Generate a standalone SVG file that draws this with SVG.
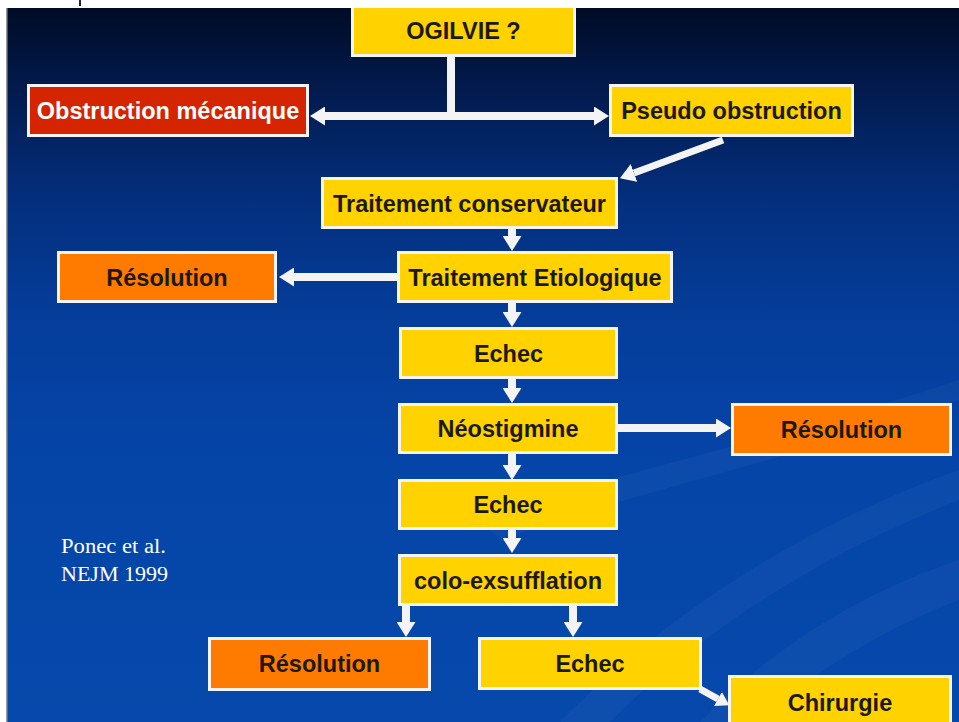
<svg xmlns="http://www.w3.org/2000/svg" width="959" height="722" viewBox="0 0 959 722">
  <defs>
    <linearGradient id="bg" x1="0" y1="0" x2="0" y2="1">
      <stop offset="0" stop-color="#000a22"/>
      <stop offset="0.12" stop-color="#021a4c"/>
      <stop offset="0.28" stop-color="#042f7e"/>
      <stop offset="0.45" stop-color="#053e9c"/>
      <stop offset="0.65" stop-color="#0545a8"/>
      <stop offset="1" stop-color="#0648ab"/>
    </linearGradient>
    <marker id="ah" viewBox="0 0 15 19" refX="0" refY="9.5" markerWidth="15" markerHeight="19" markerUnits="userSpaceOnUse" orient="auto-start-reverse">
      <path d="M0,0 L15,9.5 L0,19 z" fill="#f4f4f4"/>
    </marker>
    <marker id="ahs" viewBox="0 0 13 16" refX="0" refY="8" markerWidth="13" markerHeight="16" markerUnits="userSpaceOnUse" orient="auto">
      <path d="M0,0 L13,8 L0,16 z" fill="#f4f4f4"/>
    </marker>
  </defs>
  <style>
    .box { stroke: #f4f4f4; stroke-width: 3; }
    .y { fill: #ffd200; }
    .o { fill: #ff7b00; }
    .r { fill: #d42400; }
    .t { font-family: "Liberation Sans", Arial, sans-serif; font-weight: bold; font-size: 23.5px; text-anchor: middle; fill: #1c1a10; }
    .tw { fill: #ffffff; }
    .c { stroke: #f4f4f4; stroke-width: 8; fill: none; }
    .ref { font-family: "Liberation Serif", "Times New Roman", serif; font-size: 20px; fill: #ffffff; }
  </style>

  <!-- background -->
  <rect x="0" y="0" width="959" height="722" fill="url(#bg)"/>
  <g fill="#ffffff" opacity="0.03">
    <path d="M560,722 C680,600 820,520 959,470 L959,500 C830,550 700,630 610,722 z"/>
    <path d="M700,722 C780,640 870,590 959,560 L959,600 C880,630 800,680 760,722 z"/>
    <path d="M480,520 C620,470 780,440 959,380 L959,400 C790,460 640,490 500,540 z"/>
  </g>

  <!-- connectors -->
  <g id="connectors">
    <line class="c" x1="451" y1="55" x2="451" y2="116"/>
    <line class="c" x1="325" y1="116" x2="594" y2="116" marker-start="url(#ah)" marker-end="url(#ah)"/>
    <line class="c" style="stroke-width:7" x1="723" y1="140" x2="634" y2="173" marker-end="url(#ah)"/>
    <line class="c" x1="512" y1="229" x2="512" y2="236" marker-end="url(#ah)"/>
    <line class="c" x1="397" y1="277" x2="294" y2="277" marker-end="url(#ah)"/>
    <line class="c" x1="512" y1="303" x2="512" y2="312" marker-end="url(#ah)"/>
    <line class="c" x1="512" y1="379" x2="512" y2="388" marker-end="url(#ah)"/>
    <line class="c" x1="618" y1="428" x2="716" y2="428" marker-end="url(#ah)"/>
    <line class="c" x1="512" y1="454" x2="512" y2="465" marker-end="url(#ah)"/>
    <line class="c" x1="512" y1="529" x2="512" y2="538" marker-end="url(#ah)"/>
    <line class="c" x1="406" y1="605" x2="406" y2="622" marker-end="url(#ah)"/>
    <line class="c" x1="573" y1="605" x2="573" y2="622" marker-end="url(#ah)"/>
    <line class="c" style="stroke-width:7" x1="700" y1="689" x2="718" y2="699" marker-end="url(#ahs)"/>
  </g>

  <!-- nodes -->
  <g id="ogilvie">
    <rect class="box y" x="352.5" y="2" width="222" height="53.5"/>
    <text class="t" x="463.5" y="39">OGILVIE ?</text>
  </g>
  <g id="obstruction-mecanique">
    <rect class="box r" x="28.5" y="85.5" width="279" height="50"/>
    <text class="t tw" x="168" y="119">Obstruction mécanique</text>
  </g>
  <g id="pseudo-obstruction">
    <rect class="box y" x="610.5" y="85.5" width="242" height="50"/>
    <text class="t" x="731.5" y="119">Pseudo obstruction</text>
  </g>
  <g id="traitement-conservateur">
    <rect class="box y" x="322.5" y="178.5" width="294" height="49"/>
    <text class="t" x="469.5" y="211.5">Traitement conservateur</text>
  </g>
  <g id="traitement-etiologique">
    <rect class="box y" x="398.5" y="252.5" width="273" height="49"/>
    <text class="t" x="535" y="285.5">Traitement Etiologique</text>
  </g>
  <g id="resolution-1">
    <rect class="box o" x="58.5" y="252.5" width="217" height="49"/>
    <text class="t" x="167" y="285.5">Résolution</text>
  </g>
  <g id="echec-1">
    <rect class="box y" x="400.5" y="328.5" width="216" height="49"/>
    <text class="t" x="508.5" y="361.5">Echec</text>
  </g>
  <g id="neostigmine">
    <rect class="box y" x="399.5" y="404.5" width="217" height="48"/>
    <text class="t" x="508" y="437">Néostigmine</text>
  </g>
  <g id="resolution-2">
    <rect class="box o" x="732.5" y="404.5" width="218" height="50"/>
    <text class="t" x="841.5" y="438">Résolution</text>
  </g>
  <g id="echec-2">
    <rect class="box y" x="399.5" y="480.5" width="217" height="48"/>
    <text class="t" x="508" y="513">Echec</text>
  </g>
  <g id="colo-exsufflation">
    <rect class="box y" x="399.5" y="555.5" width="217" height="49"/>
    <text class="t" x="508" y="588.5">colo-exsufflation</text>
  </g>
  <g id="resolution-3">
    <rect class="box o" x="209.5" y="638.5" width="220" height="51"/>
    <text class="t" x="319.5" y="672">Résolution</text>
  </g>
  <g id="echec-3">
    <rect class="box y" x="479.5" y="638.5" width="221" height="50"/>
    <text class="t" x="590" y="672">Echec</text>
  </g>
  <g id="chirurgie">
    <rect class="box y" x="729.5" y="676.5" width="221" height="60"/>
    <text class="t" x="840" y="711">Chirurgie</text>
  </g>

  <!-- reference -->
  <text class="ref" x="61" y="553" textLength="105" lengthAdjust="spacingAndGlyphs">Ponec et al.</text>
  <text class="ref" x="61" y="581" textLength="107" lengthAdjust="spacingAndGlyphs">NEJM 1999</text>

  <!-- page edges -->
  <rect x="0" y="0" width="959" height="8" fill="#ffffff"/>
  <rect x="0" y="0" width="6" height="722" fill="#ffffff"/>
  <rect x="6" y="8" width="1.5" height="714" fill="#9a9a9a"/>
  <rect x="79" y="0" width="2" height="6" fill="#222222"/>
</svg>
